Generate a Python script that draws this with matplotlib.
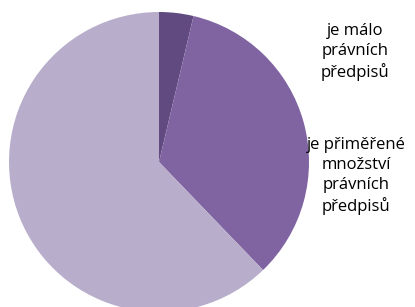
import matplotlib.pyplot as plt

labels = ['je málo\nprávních\npředpisů',
          'je přiměřené\nmnožství\nprávních\npředpisů',
          'je příliš mnoho\nprávních předpisů']
shares = [3.7, 34.1, 62.2]
colors = ['#604a7f', '#8064a2', '#b8aecb']

fig = plt.figure(figsize=(4.15, 3.07), dpi=100)
ax = fig.add_axes([0, 0, 1, 1])
ax.set_xlim(0, 415)
ax.set_ylim(0, 307)
ax.set_aspect('equal')

ax.pie(shares, colors=colors, startangle=90, counterclock=False,
       center=(159, 145), radius=150, frame=True,
       wedgeprops={'linewidth': 0})
ax.axis('off')

# legend text (entries visible in the original, markers clipped)
ax.text(355, 255, labels[0], ha='center', va='center', fontsize=12,
        family='Open Sans', linespacing=1.33)
ax.text(356, 131, labels[1], ha='center', va='center', fontsize=12,
        family='Open Sans', linespacing=1.33)

fig.savefig('out.png', dpi=100)
